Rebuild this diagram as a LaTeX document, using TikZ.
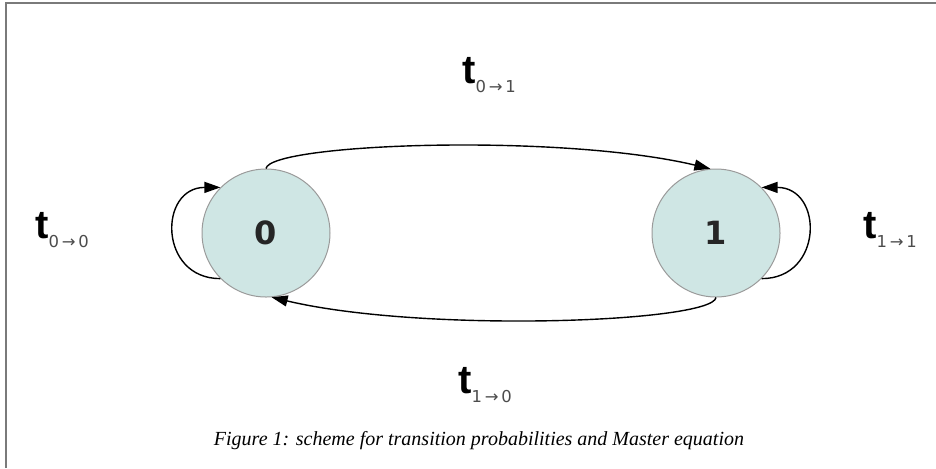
\documentclass[tikz,border=0pt]{standalone}
\usepackage{fontspec}
\setmainfont{Liberation Serif}
\newfontfamily\dvsans{DejaVu Sans}
\newfontfamily\lsans{Liberation Sans}
\usetikzlibrary{positioning,arrows.meta}
\definecolor{statefill}{HTML}{CFE6E4}
\definecolor{stateline}{HTML}{9A9A9A}
\definecolor{framegray}{HTML}{7A7A7A}
\newcommand{\trate}[2]{{\lsans\bfseries\fontsize{20}{20}\selectfont t}\raisebox{-4.5pt}{\dvsans\fontsize{8.2}{9}\selectfont\color{black!70}#1\,→\,#2}}

\begin{document}
\begin{tikzpicture}[
  x=0.5pt, y=-0.5pt,
  state/.style={circle, draw=stateline, line width=0.5pt, fill=statefill, minimum size=64pt, inner sep=0pt,
    font=\dvsans\bfseries\fontsize{16}{16}\selectfont, text=black!85},
  arrow/.style={-{Triangle[length=8pt,width=5.5pt]}, line width=0.7pt},
  rate/.style={anchor=base west, inner sep=0pt}
]
\useasboundingbox (0,0) rectangle (936,468);
\draw[framegray, line width=0.8pt] (6,468) -- (6,3) -- (936,3);

\node[state] (n0) at (266,233) {0};
\node[state, right=160.5pt of n0] (n1) {1};

\node[rate] (t01) at (462,83) {\trate{0}{1}};
\node[rate] (t10) at (458,393) {\trate{1}{0}};
\node[rate] (t00) at (35,238) {\trate{0}{0}};
\node[rate] (t11) at (863,238) {\trate{1}{1}};

\draw[arrow] (n0.north) .. controls +(4,-25) and +(-152,-36) .. (n1.95);
\draw[arrow] (n1.south) .. controls +(-4,25) and +(152,36) .. (n0.275);
\draw[arrow] (n0.225) .. controls +(-62,0) and +(-62,0) .. (n0.135);
\draw[arrow] (n1.-45) .. controls +(62,0) and +(62,0) .. (n1.45);

\node[anchor=base] (caption) at (479,445) {\fontsize{10}{12}\selectfont\itshape Figure 1: scheme for transition probabilities and Master equation};
\end{tikzpicture}
\end{document}
